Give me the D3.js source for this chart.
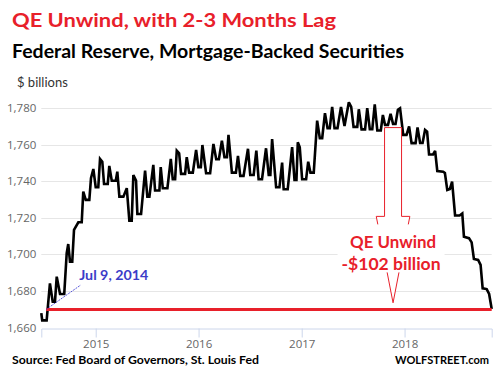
<!DOCTYPE html>
<html>
<head>
<meta charset="utf-8">
<script src="https://cdn.jsdelivr.net/npm/d3@7"></script>
<style>
  body { margin: 0; background: #fff; }
  svg { display: block; }
  .grid line { stroke: #e6e6e6; stroke-width: 1; }
  .axis-label { font-family: "Open Sans", sans-serif; font-size: 11.5px; fill: #666; }
  .ttl { font-family: Lato, sans-serif; font-weight: bold; }
</style>
</head>
<body>
<div id="chart"></div>
<script>
// Fed MBS holdings, $ billions (vertices, decimal years)
var years = [
  2014.471, 2014.480, 2014.523, 2014.555, 2014.582, 2014.604, 2014.621, 2014.653, 2014.694, 2014.718,
  2014.733, 2014.750, 2014.772, 2014.789, 2014.831, 2014.864, 2014.879, 2014.903, 2014.938, 2014.954,
  2014.977, 2015.000, 2015.025, 2015.042, 2015.064, 2015.081, 2015.117, 2015.132, 2015.156, 2015.195,
  2015.210, 2015.230, 2015.269, 2015.302, 2015.327, 2015.350, 2015.366, 2015.392, 2015.405, 2015.441,
  2015.480, 2015.502, 2015.522, 2015.560, 2015.577, 2015.619, 2015.632, 2015.652, 2015.697, 2015.730,
  2015.749, 2015.772, 2015.788, 2015.811, 2015.830, 2015.869, 2015.885, 2015.908, 2015.944, 2015.976,
  2015.998, 2016.022, 2016.037, 2016.073, 2016.112, 2016.144, 2016.171, 2016.197, 2016.226, 2016.251,
  2016.275, 2016.290, 2016.323, 2016.362, 2016.382, 2016.404, 2016.436, 2016.479, 2016.501, 2016.534,
  2016.560, 2016.582, 2016.615, 2016.654, 2016.680, 2016.696, 2016.713, 2016.752, 2016.784, 2016.810,
  2016.825, 2016.864, 2016.907, 2016.930, 2016.949, 2016.962, 2016.981, 2017.004, 2017.043, 2017.063,
  2017.085, 2017.117, 2017.150, 2017.176, 2017.199, 2017.226, 2017.251, 2017.273, 2017.296, 2017.319,
  2017.348, 2017.382, 2017.416, 2017.458, 2017.481, 2017.504, 2017.540, 2017.555, 2017.582, 2017.616,
  2017.637, 2017.662, 2017.686, 2017.710, 2017.735, 2017.769, 2017.789, 2017.810, 2017.839, 2017.864,
  2017.888, 2017.912, 2017.935, 2017.956, 2017.987, 2018.019, 2018.044, 2018.068, 2018.107, 2018.126,
  2018.151, 2018.175, 2018.199, 2018.219, 2018.238, 2018.277, 2018.297, 2018.318, 2018.375, 2018.392,
  2018.415, 2018.441, 2018.462, 2018.491, 2018.535, 2018.561, 2018.577, 2018.626, 2018.652, 2018.674,
  2018.715, 2018.739, 2018.759, 2018.798, 2018.822, 2018.847
];
var values = [
  1668.0, 1664.0, 1664.0, 1684.2, 1674.2, 1674.2, 1687.9, 1678.4, 1678.4, 1700.7,
  1705.7, 1696.1, 1696.1, 1713.4, 1717.6, 1717.6, 1734.3, 1729.8, 1729.8, 1741.6,
  1746.7, 1736.7, 1736.7, 1752.2, 1750.7, 1738.5, 1738.5, 1748.4, 1740.3, 1740.3,
  1745.2, 1731.6, 1731.6, 1736.2, 1718.5, 1718.5, 1743.4, 1740.3, 1722.1, 1722.1,
  1745.8, 1731.6, 1731.6, 1748.9, 1734.9, 1734.9, 1747.7, 1736.2, 1736.2, 1752.2,
  1741.1, 1741.1, 1756.7, 1755.3, 1744.0, 1744.0, 1753.1, 1744.7, 1744.7, 1757.1,
  1747.7, 1747.7, 1759.8, 1744.4, 1744.4, 1760.4, 1752.0, 1752.0, 1762.2, 1753.1,
  1753.1, 1765.3, 1744.7, 1744.7, 1753.8, 1742.9, 1742.9, 1757.7, 1743.4, 1743.4,
  1756.7, 1741.1, 1741.1, 1758.0, 1743.4, 1743.4, 1763.0, 1736.7, 1736.7, 1750.2,
  1735.6, 1735.6, 1758.6, 1740.7, 1740.7, 1761.3, 1758.6, 1741.1, 1741.1, 1750.7,
  1744.7, 1744.7, 1773.1, 1763.5, 1763.5, 1777.2, 1769.0, 1769.0, 1780.6, 1769.0,
  1769.0, 1780.6, 1770.2, 1783.1, 1780.6, 1769.7, 1769.7, 1779.3, 1768.3, 1768.3,
  1779.9, 1768.4, 1768.4, 1782.0, 1767.7, 1767.7, 1776.2, 1770.8, 1770.8, 1776.8,
  1771.3, 1771.3, 1779.0, 1779.8, 1765.3, 1765.3, 1769.9, 1760.8, 1760.8, 1769.4,
  1760.9, 1760.9, 1768.0, 1767.1, 1754.6, 1754.6, 1756.6, 1745.6, 1745.2, 1744.5,
  1735.2, 1735.8, 1739.8, 1721.3, 1721.3, 1722.4, 1709.7, 1708.9, 1706.6, 1697.5,
  1697.0, 1694.3, 1681.5, 1681.1, 1678.4, 1670.2
];

var yTicks = [1660, 1680, 1700, 1720, 1740, 1760, 1780];
var xTicks = [2015, 2016, 2017, 2018];

var baseDate = 2014.518;    // Jul 9, 2014
var baseValue = 1670;
var unwindTop = 1769.3, unwindNeck = 1720.8, unwindTip = 1673.6, unwindDate = 2017.888;

// magic numbers
var W = 496, H = 373;
var margin = {top: 108, right: 4.3, bottom: 45.3, left: 41.3},
	width = W - margin.left - margin.right,
	height = H - margin.top - margin.bottom;

function toDate(y){
	var yr = Math.floor(y),
		a = new Date(yr, 0, 1),
		b = new Date(yr + 1, 0, 1);
	return new Date(+a + (y - yr) * (b - a));
}

var data = years.map(function(d, i){ return {date: toDate(d), value: values[i]}; });

var svg = d3.select("#chart").append("svg")
		.attr("width", W)
		.attr("height", H);

var g = svg.append("g")
		.attr("transform", "translate(" + margin.left + "," + margin.top + ")");

var x = d3.scaleTime()
		.domain(d3.extent(data, function(d){ return d.date; }))
		.range([0, width]);

var y = d3.scaleLinear()
		.domain([1660, 1780])
		.range([height, 0]);

// gridlines
g.append("g")
		.attr("class", "grid")
	.selectAll("line")
	.data(yTicks.slice(1))
	.enter().append("line")
		.attr("x1", 0)
		.attr("x2", width)
		.attr("y1", function(d){ return Math.round(y(d)) + 0.5; })
		.attr("y2", function(d){ return Math.round(y(d)) + 0.5; });

// y axis labels
g.append("g")
	.selectAll("text")
	.data(yTicks)
	.enter().append("text")
		.attr("class", "axis-label")
		.attr("x", -5)
		.attr("y", function(d){ return y(d); })
		.attr("dy", "0.35em")
		.attr("text-anchor", "end")
		.text(function(d){ return d3.format(",")(d); });

// x axis
var xAxis = d3.axisBottom(x)
		.tickValues(xTicks.map(function(d){ return new Date(d, 0, 1); }))
		.tickFormat(d3.timeFormat("%Y"))
		.tickSize(9)
		.tickPadding(2);

var gx = g.append("g")
		.attr("transform", "translate(0," + (Math.round(height) + 0.5) + ")")
		.call(xAxis);
gx.select(".domain").attr("stroke", "#ccd6eb");
gx.selectAll(".tick line").attr("stroke", "#ccd6eb");
gx.selectAll(".tick text")
		.attr("class", "axis-label")
		.attr("fill", null)
		.attr("dy", "0.71em");

// the series
var line = d3.line()
		.x(function(d){ return x(d.date); })
		.y(function(d){ return y(d.value); });

g.append("path")
		.datum(data)
		.attr("d", line)
		.attr("fill", "none")
		.attr("stroke", "#000")
		.attr("stroke-width", 2.6)
		.attr("stroke-linejoin", "miter")
		.attr("stroke-miterlimit", 3);

// red base line at Jul 9, 2014 level
g.append("line")
		.attr("x1", x(toDate(baseDate)))
		.attr("x2", width)
		.attr("y1", y(baseValue))
		.attr("y2", y(baseValue))
		.attr("stroke", "#e8202a")
		.attr("stroke-width", 3);

// pointer to the base date
g.append("line")
		.attr("x1", x(toDate(baseDate)))
		.attr("y1", y(baseValue))
		.attr("x2", x(toDate(2014.854)))
		.attr("y2", y(1683.3))
		.attr("stroke", "#2f2fd0")
		.attr("stroke-width", 0.8)
		.attr("stroke-dasharray", "2,1");

g.append("text")
		.attr("class", "ttl")
		.attr("x", x(toDate(2014.854)) - 1.5)
		.attr("y", y(1683.3) - 5)
		.attr("font-size", "12.5px")
		.attr("fill", "#3c3cc8")
		.attr("textLength", 69)
		.attr("lengthAdjust", "spacingAndGlyphs")
		.text("Jul 9, 2014");

// the unwind arrow
var cx = x(toDate(unwindDate)),
	yTop = y(unwindTop),
	yNeck = y(unwindNeck),
	yTip = y(unwindTip);

g.append("path")
		.attr("d", "M" + (cx - 8.5) + "," + yTop + "H" + (cx + 8.5) + "V" + yNeck +
			"H" + (cx + 16.8) + "L" + cx + "," + yTip + "L" + (cx - 16.8) + "," + yNeck +
			"H" + (cx - 8.5) + "Z")
		.attr("fill", "#fff")
		.attr("stroke", "#e8202a")
		.attr("stroke-width", 1);

g.append("rect")
		.attr("x", cx - 55.5)
		.attr("y", y(1720.8) + 8)
		.attr("width", 107)
		.attr("height", 48)
		.attr("fill", "#fff");

var unwindText = g.append("text")
		.attr("class", "ttl")
		.attr("fill", "#e8202a")
		.attr("font-size", "17px")
		.attr("text-anchor", "middle");

unwindText.append("tspan")
		.attr("x", cx)
		.attr("y", y(1720.8) + 31.5)
		.attr("textLength", 86)
		.attr("lengthAdjust", "spacingAndGlyphs")
		.text("QE Unwind");

unwindText.append("tspan")
		.attr("x", cx - 2)
		.attr("y", y(1720.8) + 54)
		.attr("textLength", 99)
		.attr("lengthAdjust", "spacingAndGlyphs")
		.text("-$102 billion");

// titles
svg.append("text")
		.attr("class", "ttl")
		.attr("x", 12)
		.attr("y", 27)
		.attr("font-size", "19px")
		.attr("fill", "#e8202a")
		.attr("textLength", 324)
		.attr("lengthAdjust", "spacingAndGlyphs")
		.text("QE Unwind, with 2-3 Months Lag");

svg.append("text")
		.attr("class", "ttl")
		.attr("x", 12)
		.attr("y", 58)
		.attr("font-size", "18px")
		.attr("fill", "#000")
		.attr("textLength", 392)
		.attr("lengthAdjust", "spacingAndGlyphs")
		.text("Federal Reserve, Mortgage-Backed Securities");

svg.append("text")
		.attr("x", 17)
		.attr("y", 87)
		.attr("font-family", "Lato, sans-serif")
		.attr("font-size", "13px")
		.attr("fill", "#333")
		.text("$ billions");

// footer
svg.append("text")
		.attr("class", "ttl")
		.attr("x", 12)
		.attr("y", 364)
		.attr("font-size", "12px")
		.attr("fill", "#000")
		.attr("textLength", 247)
		.attr("lengthAdjust", "spacingAndGlyphs")
		.text("Source: Fed Board of Governors, St. Louis Fed");

svg.append("text")
		.attr("class", "ttl")
		.attr("x", 395)
		.attr("y", 364)
		.attr("font-size", "12px")
		.attr("fill", "#000")
		.attr("textLength", 94)
		.attr("lengthAdjust", "spacingAndGlyphs")
		.text("WOLFSTREET.com");
</script>
</body>
</html>
